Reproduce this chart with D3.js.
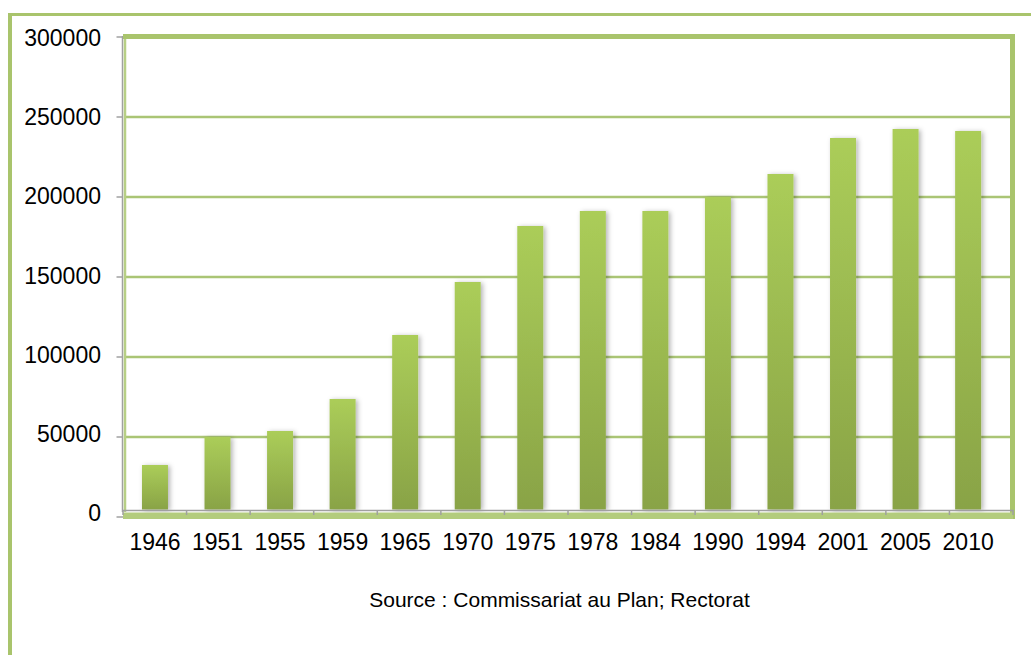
<!DOCTYPE html>
<html>
<head>
<meta charset="utf-8">
<script src="https://cdn.jsdelivr.net/npm/d3@7/dist/d3.min.js"></script>
<style>
  html, body { margin: 0; padding: 0; background: #ffffff; }
  svg { display: block; }
  text { font-family: "Liberation Sans", Arial, sans-serif; fill: #000; }
</style>
</head>
<body>
<svg id="chart" width="1031" height="655"></svg>
<script>
const years = ["1946","1951","1955","1959","1965","1970","1975","1978","1984","1990","1994","2001","2005","2010"];
const values = [32500, 50000, 53750, 73750, 113750, 146875, 181875, 191250, 191250, 200000, 214375, 236875, 242500, 241250];
const yTicks = [0, 50000, 100000, 150000, 200000, 250000, 300000];
const sourceText = "Source : Commissariat au Plan; Rectorat";

const svg = d3.select("#chart");
const green = "#a9c46c";

// defs: gradient + shadow
const defs = svg.append("defs");
const grad = defs.append("linearGradient").attr("id", "barGrad")
  .attr("x1", 0).attr("y1", 0).attr("x2", 0).attr("y2", 1);
grad.append("stop").attr("offset", "0%").attr("stop-color", "#abcd59");
grad.append("stop").attr("offset", "100%").attr("stop-color", "#89a346");
const f = defs.append("filter").attr("id", "shadow")
  .attr("x", "-30%").attr("y", "-10%").attr("width", "170%").attr("height", "130%");
f.append("feDropShadow").attr("dx", 2).attr("dy", 1).attr("stdDeviation", 2.5)
  .attr("flood-color", "#000").attr("flood-opacity", 0.3);

// scales
const y = d3.scaleLinear().domain([0, 300000]).range([517, 37]);
const yLabel = d3.scaleLinear().domain([0, 300000]).range([512.8, 38.3]);
const xBar = d3.scaleBand().domain(years).range([123.7, 999.4]).paddingInner(0.5843).paddingOuter(0.292);
const xFront = d3.scaleBand().domain(years).range([123, 1013]);

// outer frame
svg.append("line").attr("x1", 8).attr("x2", 1031).attr("y1", 14.5).attr("y2", 14.5)
  .attr("stroke", green).attr("stroke-width", 3);
svg.append("line").attr("x1", 10).attr("x2", 10).attr("y1", 13).attr("y2", 655)
  .attr("stroke", green).attr("stroke-width", 4);

// gridlines
svg.append("g").selectAll("line").data(yTicks.filter(t => t > 0 && t < 300000)).join("line")
  .attr("x1", 126).attr("x2", 1011)
  .attr("y1", d => y(d)).attr("y2", d => y(d))
  .attr("stroke", "#aac575").attr("stroke-width", 2.5);

// walls
svg.append("line").attr("x1", 122.5).attr("x2", 122.5).attr("y1", 36).attr("y2", 512)
  .attr("stroke", "#a0a0a0").attr("stroke-width", 1.5);
svg.append("line").attr("x1", 125).attr("x2", 125).attr("y1", 36).attr("y2", 512)
  .attr("stroke", "#b7cf85").attr("stroke-width", 2.5);
svg.append("line").attr("x1", 123).attr("x2", 1015).attr("y1", 36.5).attr("y2", 36.5)
  .attr("stroke", green).attr("stroke-width", 5);
svg.append("line").attr("x1", 1012.5).attr("x2", 1012.5).attr("y1", 34).attr("y2", 519)
  .attr("stroke", green).attr("stroke-width", 5);

// y ticks
svg.append("g").selectAll("line").data(yTicks).join("line")
  .attr("x1", 116.5).attr("x2", 123)
  .attr("y1", d => y(d)).attr("y2", d => y(d))
  .attr("stroke", "#a0a0a0").attr("stroke-width", 1.5);

// bars
svg.append("g").selectAll("rect").data(years).join("rect")
  .attr("x", d => xBar(d))
  .attr("y", (d, i) => y(values[i]))
  .attr("width", xBar.bandwidth())
  .attr("height", (d, i) => 509.5 - y(values[i]))
  .attr("fill", "url(#barGrad)")
  .attr("filter", "url(#shadow)");

// floor
svg.append("rect").attr("x", 123).attr("y", 512.5).attr("width", 890).attr("height", 6.5)
  .attr("fill", "#b3cc7d");
svg.append("line").attr("x1", 122).attr("x2", 1013.5).attr("y1", 510.5).attr("y2", 510.5)
  .attr("stroke", "#a0a0a0").attr("stroke-width", 1.5);
const frontTicks = years.map(d => xFront(d)).concat([1013]);
svg.append("g").selectAll("line").data(frontTicks).join("line")
  .attr("x1", d => d).attr("x2", d => d).attr("y1", 510).attr("y2", 515)
  .attr("stroke", "#a0a0a0").attr("stroke-width", 1.5);

// y labels
svg.append("g").selectAll("text").data(yTicks).join("text")
  .attr("x", 101).attr("y", d => yLabel(d))
  .attr("text-anchor", "end").attr("dominant-baseline", "central")
  .attr("font-size", 23)
  .text(d => d);

// x labels
svg.append("g").selectAll("text").data(years).join("text")
  .attr("x", d => xBar(d) + xBar.bandwidth() / 2).attr("y", 549.5)
  .attr("text-anchor", "middle").attr("font-size", 23)
  .text(d => d);

// source
svg.append("text").attr("x", 559.5).attr("y", 607)
  .attr("text-anchor", "middle").attr("font-size", 21)
  .text(sourceText);
</script>
</body>
</html>
